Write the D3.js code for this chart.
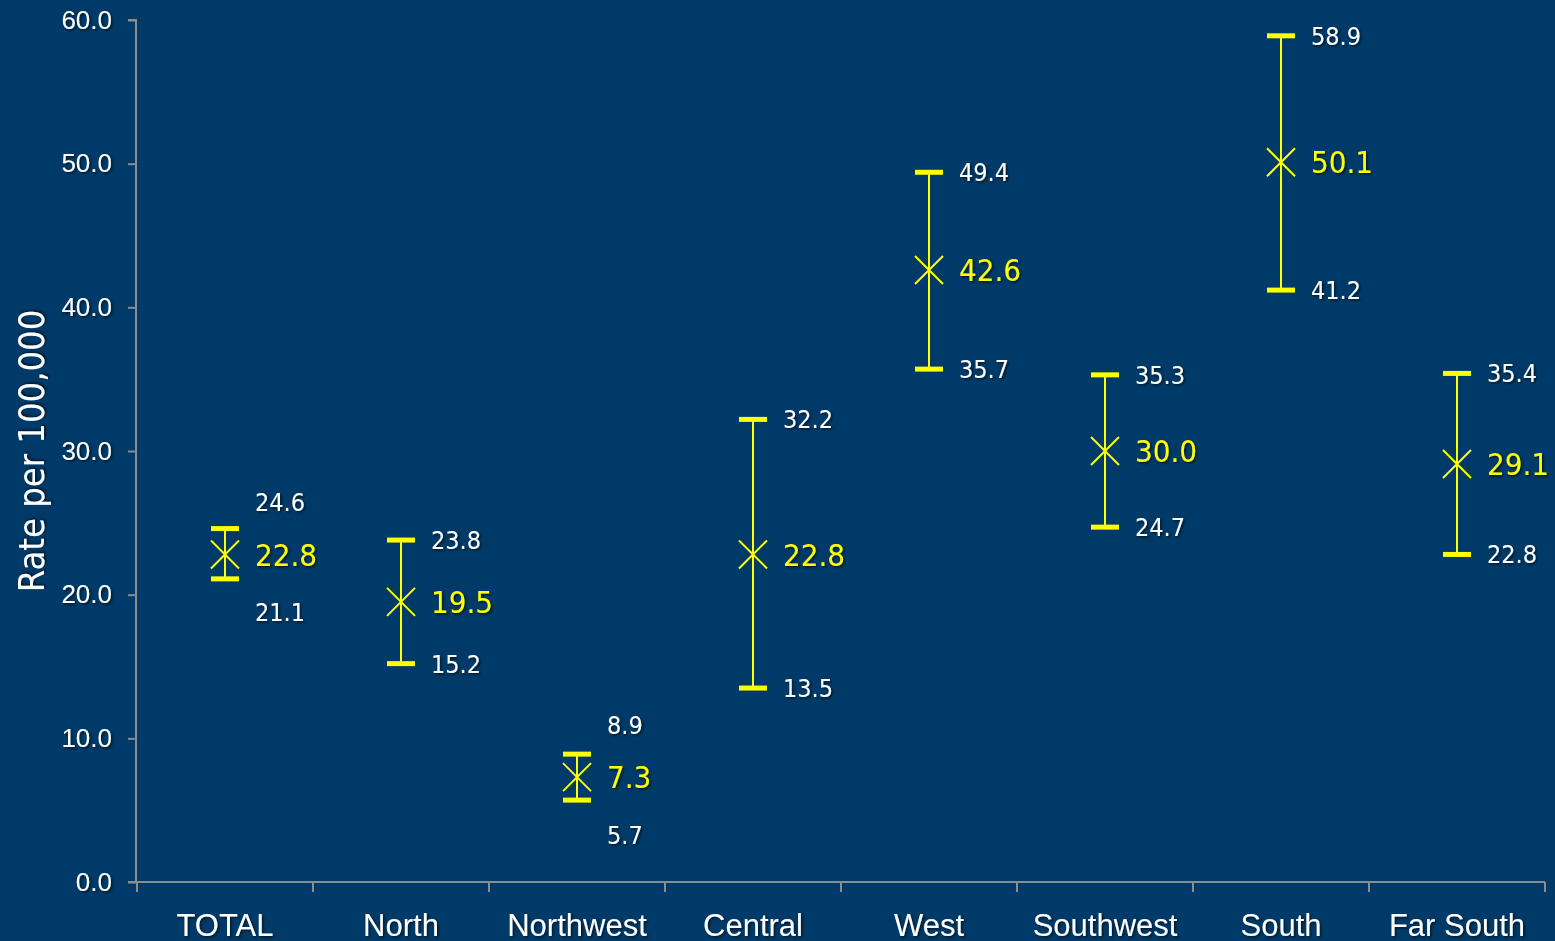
<!DOCTYPE html>
<html><head><meta charset="utf-8">
<script src="https://cdn.jsdelivr.net/npm/d3@7"></script>
<style>
html,body{margin:0;padding:0;background:#003a68;}
svg{display:block;font-family:"DejaVu Sans Condensed","DejaVu Sans",sans-serif;font-stretch:condensed;}
</style></head><body>
<svg id="c" width="1555" height="941"></svg>
<script>
const categories = ["TOTAL","North","Northwest","Central","West","Southwest","South","Far South"];
const rates = [22.8, 19.5, 7.3, 22.8, 42.6, 30.0, 50.1, 29.1];
const lowerCI = [21.1, 15.2, 5.7, 13.5, 35.7, 24.7, 41.2, 22.8];
const upperCI = [24.6, 23.8, 8.9, 32.2, 49.4, 35.3, 58.9, 35.4];
const yTicks = [0, 10, 20, 30, 40, 50, 60];
const yTitle = "Rate per 100,000";

const svg = d3.select("#c");
const defs = svg.append("defs");
const f = defs.append("filter").attr("id","sh").attr("x","-20%").attr("y","-20%").attr("width","140%").attr("height","140%");
f.append("feDropShadow").attr("dx",1.5).attr("dy",1.5).attr("stdDeviation",0.8).attr("flood-color","#000").attr("flood-opacity",0.6);

const L = 137, R = 1545, T = 20, B = 882;
const x = d3.scaleBand().domain(categories).range([L, R]).padding(0);
const y = d3.scaleLinear().domain([0, 60]).range([B, T]);

const axisColor = "#8c8c8c";
// y axis
const ya = svg.append("g").attr("transform", `translate(${L-1},0)`)
  .call(d3.axisLeft(y).tickValues(yTicks).tickFormat(d3.format(".1f")).tickSize(8).tickPadding(16));
ya.select(".domain").attr("stroke", axisColor).attr("stroke-width", 2).attr("d", `M-8,${B}H0V${T}H-8`);
ya.selectAll(".tick line").attr("stroke", axisColor).attr("stroke-width", 2);
ya.selectAll(".tick text").attr("fill","#fff").attr("font-size", 26).attr("font-family", null).attr("filter","url(#sh)");

// x axis
const xa = svg.append("g").attr("transform", `translate(0,${B})`)
  .call(d3.axisBottom(x).tickSize(0).tickPadding(32));
xa.select(".domain").attr("stroke", axisColor).attr("stroke-width", 2).attr("d", `M${L-9},0H${R}`);
xa.selectAll(".tick text").attr("fill","#fff").attr("font-size", 31).attr("font-family", null).attr("filter","url(#sh)");
const bounds = categories.map(c => x(c)).concat([R]);
svg.append("g").selectAll("line").data(bounds).join("line")
  .attr("x1", d => d).attr("x2", d => d).attr("y1", B).attr("y2", B + 10)
  .attr("stroke", axisColor).attr("stroke-width", 2);

// y title
svg.append("text").attr("transform", `translate(44,451) rotate(-90)`)
  .attr("text-anchor","middle").attr("fill","#fff").attr("font-size", 36)
  .attr("filter","url(#sh)").text(yTitle);

const yellow = "#ffff00";
const data = categories.map((c,i) => ({c, m: rates[i], lo: lowerCI[i], hi: upperCI[i]}));
const g = svg.append("g").selectAll("g").data(data).join("g")
  .attr("transform", d => `translate(${x(d.c) + x.bandwidth()/2},0)`);
g.append("line").attr("y1", d => y(d.hi)).attr("y2", d => y(d.lo))
  .attr("stroke", yellow).attr("stroke-width", 2);
g.append("line").attr("x1",-14).attr("x2",14).attr("y1", d => y(d.hi)).attr("y2", d => y(d.hi))
  .attr("stroke", yellow).attr("stroke-width", 5);
g.append("line").attr("x1",-14).attr("x2",14).attr("y1", d => y(d.lo)).attr("y2", d => y(d.lo))
  .attr("stroke", yellow).attr("stroke-width", 5);
const s = 14;
g.append("path").attr("d", d => `M${-s},${y(d.m)-s}L${s},${y(d.m)+s}M${-s},${y(d.m)+s}L${s},${y(d.m)-s}`)
  .attr("stroke", yellow).attr("stroke-width", 2).attr("fill","none");

// labels
g.append("text").attr("x", 30).attr("y", d => y(d.m)).attr("dy","0.36em")
  .attr("fill", yellow).attr("font-size", 31).attr("filter","url(#sh)")
  .text(d => d3.format(".1f")(d.m));
g.append("text").attr("x", 30)
  .attr("y", d => { const gap = y(d.m) - y(d.hi); return gap < 40 ? y(d.m) - 52 : y(d.hi); })
  .attr("dy","0.36em").attr("fill","#fff").attr("font-size", 25).attr("filter","url(#sh)")
  .text(d => d3.format(".1f")(d.hi));
g.append("text").attr("x", 30)
  .attr("y", d => { const gap = y(d.lo) - y(d.m); return gap < 40 ? y(d.m) + 58 : y(d.lo); })
  .attr("dy","0.36em").attr("fill","#fff").attr("font-size", 25).attr("filter","url(#sh)")
  .text(d => d3.format(".1f")(d.lo));
</script>
</body></html>
